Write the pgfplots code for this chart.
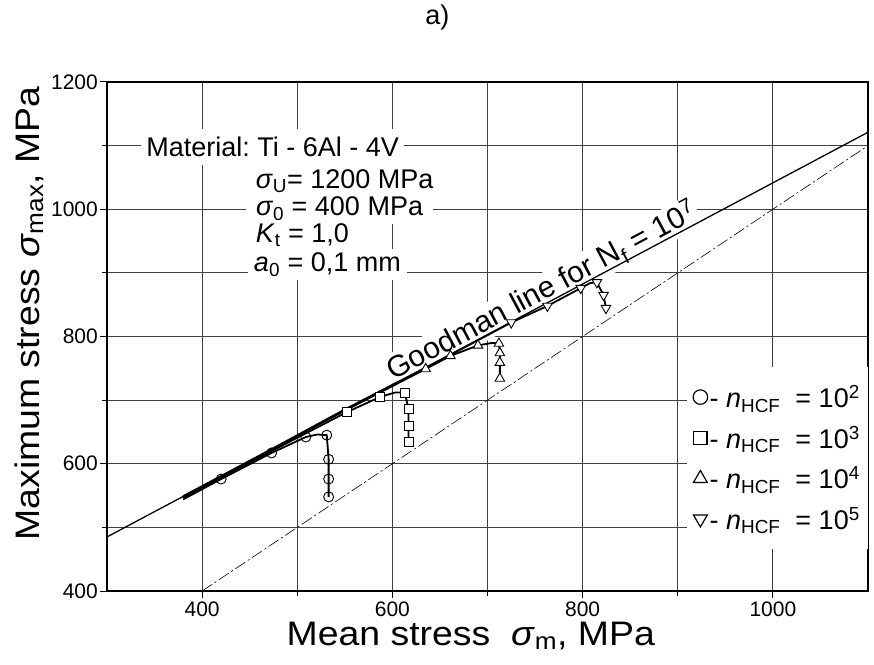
\documentclass[border=0pt]{standalone}
\usepackage{fontspec}
\setmainfont{Liberation Sans}
\newfontfamily\labfont[FakeStretch=1.1]{Liberation Sans}
\usepackage{pgfplots}
\pgfplotsset{compat=1.18}
\newcommand{\lab}{\labfont\fontsize{34}{40}\selectfont}
\newcommand{\txt}{\fontsize{27}{32}\selectfont}
\frenchspacing
\begin{document}
\begin{tikzpicture}
\path[use as bounding box] (-107pt,-73pt) rectangle (767pt,591pt);
\begin{axis}[
  scale only axis, width=761pt, height=509pt,
  xmin=300, xmax=1100, ymin=400, ymax=1200,
  xtick={400,600,800,1000}, ytick={400,600,...,1200},
  minor xtick={500,700,900}, minor ytick={500,700,900,1100},
  grid=both,
  major grid style={black!75, line width=0.9pt},
  minor grid style={black!75, line width=0.9pt},
  tick pos=left, tick align=outside,
  major tick length=7pt, minor tick length=5pt,
  every tick/.style={black, line width=1pt},
  axis line style={line width=2pt},
  ticklabel style={font=\fontsize{21}{25}\selectfont},
  yticklabel style={inner xsep=2pt},
  /pgf/number format/assume math mode=true,
  /pgf/number format/1000 sep={},
  xlabel={Mean stress \ \textit{σ}\textsubscript{m}, MPa},
  ylabel={Maximum stress \textit{σ}\textsubscript{max}, MPa},
  every axis x label/.style={at={(axis description cs:0.478,0)}, yshift=-45pt, anchor=center, font=\lab},
  every axis y label/.style={at={(axis description cs:0,0.545)}, xshift=-78pt, anchor=center, rotate=90, font=\lab},
  title={a)},
  every axis title/.style={at={(axis description cs:0.434,1)}, yshift=64pt, anchor=center, font=\txt},
  legend style={at={(axis description cs:1,0.44)}, anchor=north east, draw=none, fill=white,
    font=\txt, inner xsep=6pt, inner ysep=16pt, row sep=13pt},
  legend cell align=left,
]
% text boxes
\node[anchor=base west, fill=white, inner xsep=5pt, inner ysep=8pt, font=\txt] at (axis cs:336,1082.5) {Material: Ti - 6Al - 4V};
\node[anchor=base west, fill=white, inner sep=4pt, font=\txt] at (axis cs:452,1033) {\textit{σ}\textsubscript{U}= 1200 MPa};
\node[anchor=base west, fill=white, inner sep=4pt, inner xsep=10pt, font=\txt] at (axis cs:446,990) {\textit{σ}\textsubscript{0} = 400 MPa};
\node[anchor=base west, fill=white, inner sep=4pt, font=\txt] at (axis cs:452,947) {\textit{K}\textsubscript{t} = 1,0};
\node[anchor=base west, fill=white, inner sep=4pt, inner xsep=6pt, font=\txt] at (axis cs:448,902) {\textit{a}\textsubscript{0} = 0,1 mm};
\node[rotate=28, anchor=base west, fill=white, inner sep=2pt, font=\fontsize{30}{35}\selectfont] at (axis cs:599,729) {Goodman line for N\textsubscript{f} = 10\textsuperscript{7}};
% reference line
\addplot[black, line width=0.6pt, dash pattern=on 12pt off 3pt on 2pt off 3pt, forget plot] coordinates {(400,400) (1100,1100)};
% data curves
\addplot[black, line width=1.8pt, forget plot] coordinates {(380,544) (420,576) (473,617) (509,642) (521,646) (531,645) (533,607) (533,576) (533,548)};
\addplot[black, line width=1.8pt, forget plot] coordinates {(380,546) (420,578) (473,620) (552,681) (587,705) (603,712) (613,712) (617,686) (617,659) (617,634)};
\addplot[black, line width=1.8pt, forget plot] coordinates {(380,547.5) (473,622) (552,685) (635,749) (661,769.5) (690,786) (705,790) (712,789) (713,774) (713,759) (713,734)};
\addplot[black, line width=1.8pt, forget plot] coordinates {(380,549) (473,623) (552,687) (635,751) (661,771) (725,822) (763,848) (798,876) (808,884) (815,885) (822,865) (824.5,844.5)};
% Goodman line
\addplot[black, line width=1.3pt, forget plot] coordinates {(300,485) (1100,1121)};
% markers
\pgfplotsset{legend image code/.code={\draw[#1, every mark/.append style={line width=1.2pt, scale=1.45}] plot coordinates {(0.3cm,0cm)};}}
\addplot[only marks, mark=o, mark size=5pt, mark options={fill=white, line width=0.9pt}] coordinates {(420,576) (473,617) (509,642) (531,645) (533,607) (533,576) (533,548)};
\addlegendentry{- \textit{n}\textsubscript{HCF} \ = 10\textsuperscript{2}}
\addplot[only marks, mark=square*, mark size=4.5pt, mark options={fill=white, line width=0.9pt}] coordinates {(552,681) (587,705) (613,712) (617,686) (617,659) (617,634)};
\addlegendentry{- \textit{n}\textsubscript{HCF} \ = 10\textsuperscript{3}}
\addplot[only marks, mark=triangle*, mark size=5.5pt, mark options={fill=white, line width=0.9pt}] coordinates {(635,749) (661,769.5) (690,786) (712,789) (713,774) (713,759) (713,734)};
\addlegendentry{- \textit{n}\textsubscript{HCF} \ = 10\textsuperscript{4}}
\addplot[only marks, mark=triangle*, mark size=5.5pt, mark options={fill=white, line width=0.9pt, rotate=180}] coordinates {(725,822) (763,848) (798,876) (815,885) (822,865) (824.5,844.5)};
\addlegendentry{- \textit{n}\textsubscript{HCF} \ = 10\textsuperscript{5}}
\end{axis}
\end{tikzpicture}
\end{document}
